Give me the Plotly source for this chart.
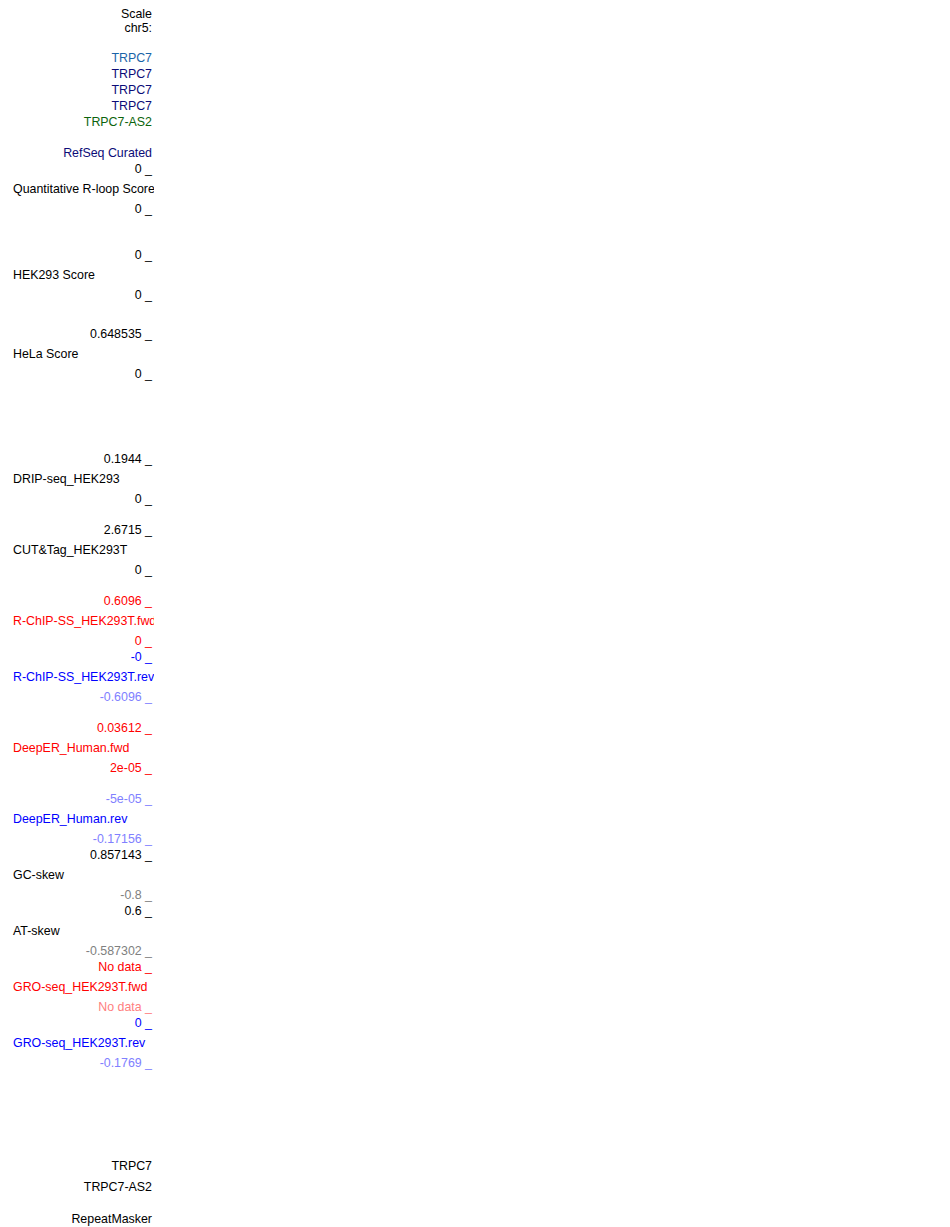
import plotly.graph_objects as go

# right-aligned labels in the left panel: (text, row y, colour)
right_text = ["Scale", "chr5:", "TRPC7", "TRPC7", "TRPC7", "TRPC7", "TRPC7-AS2",
              "RefSeq Curated", "0 _", "0 _", "0 _", "0 _", "0.648535 _", "0 _",
              "0.1944 _", "0 _", "2.6715 _", "0 _",
              "0.6096 _", "0 _", "-0 _", "-0.6096 _",
              "0.03612 _", "2e-05 _", "-5e-05 _", "-0.17156 _",
              "0.857143 _", "-0.8 _", "0.6 _", "-0.587302 _",
              "No data _", "No data _", "0 _", "-0.1769 _",
              "TRPC7", "TRPC7-AS2", "RepeatMasker"]
right_y = [10, 27, 57, 73, 89, 105, 121,
           152, 168, 208, 254, 294, 333, 373,
           458, 498, 529, 569,
           600, 640, 656, 696,
           727, 767, 798, 838,
           854, 894, 910, 950,
           966, 1006, 1022, 1062,
           1165, 1186, 1218]
right_col = ["#000000", "#000000", "#1a64a8", "#0c0c78", "#0c0c78", "#0c0c78", "#0c640c",
             "#0c0c78", "#000000", "#000000", "#000000", "#000000", "#000000", "#000000",
             "#000000", "#000000", "#000000", "#000000",
             "#ff0000", "#ff0000", "#0000ff", "#8080ff",
             "#ff0000", "#ff0000", "#8080ff", "#8080ff",
             "#000000", "#808080", "#000000", "#808080",
             "#ff0000", "#ff8080", "#0000ff", "#8080ff",
             "#000000", "#000000", "#000000"]

# left-aligned track names
left_text = ["Quantitative R-loop Score", "HEK293 Score", "HeLa Score",
             "DRIP-seq_HEK293", "CUT&Tag_HEK293T",
             "R-ChIP-SS_HEK293T.fwd", "R-ChIP-SS_HEK293T.rev",
             "DeepER_Human.fwd", "DeepER_Human.rev",
             "GC-skew", "AT-skew",
             "GRO-seq_HEK293T.fwd", "GRO-seq_HEK293T.rev"]
left_y = [188, 274, 353, 478, 549, 620, 676, 747, 818, 874, 930, 986, 1042]
left_col = ["#000000", "#000000", "#000000", "#000000", "#000000",
            "#ff0000", "#0000ff", "#ff0000", "#0000ff",
            "#000000", "#000000", "#ff0000", "#0000ff"]

# the page body has an 8px margin, so the figure is drawn inside it
PAD = 8
W, H = 950 - 2 * PAD, 1227 - PAD
CLIP = 154   # right edge of the label panel (page pixels)
NUDGE = 2    # text sits a little lower in the reference than svg "middle"
font = dict(family="Liberation Sans, Arial, sans-serif", size=12.4)

# "Scale" would otherwise be cut by the top edge of the svg (body margin)
right_y[0] = max(right_y[0], PAD + 5)

fig = go.Figure()
fig.add_trace(go.Scatter(
    x=[152] * len(right_text), y=right_y, text=right_text, mode="text",
    textposition="middle left", cliponaxis=True, hoverinfo="skip",
    textfont=dict(font, color=right_col)))
fig.add_trace(go.Scatter(
    x=[13] * len(left_text), y=left_y, text=left_text, mode="text",
    textposition="middle right", cliponaxis=True, hoverinfo="skip",
    textfont=dict(font, color=left_col)))

fig.update_layout(
    width=W, height=H, showlegend=False,
    margin=dict(l=0, r=0, t=0, b=0),
    paper_bgcolor="white", plot_bgcolor="white",
    xaxis=dict(domain=[0, (CLIP - PAD) / W], range=[PAD, CLIP], visible=False, fixedrange=True),
    yaxis=dict(domain=[0, 1], range=[PAD + H - NUDGE, PAD - NUDGE], visible=False, fixedrange=True),
)
fig.write_html("out.html")
